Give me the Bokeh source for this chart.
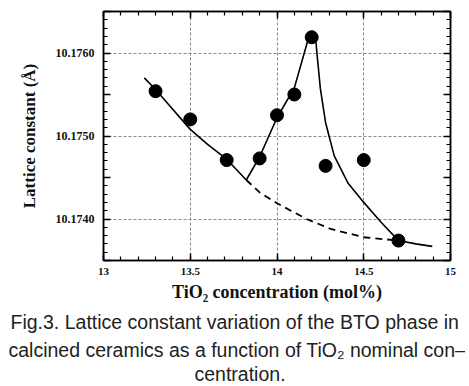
from bokeh.plotting import figure
from bokeh.models import (LinearAxis, SingleIntervalTicker, CustomJSTickFormatter,
                          Range1d, Title)
from bokeh.embed import file_html
from bokeh.resources import INLINE

# measured points
pt_x = [13.30, 13.50, 13.71, 13.90, 14.00, 14.10, 14.20, 14.28, 14.50, 14.70]
pt_y = [10.17554, 10.17520, 10.17471, 10.17473, 10.17525, 10.17550, 10.17619, 10.17464, 10.17471, 10.17374]

# solid guide curve
solid_x = [13.235, 13.30, 13.40, 13.50, 13.60, 13.71, 13.823, 13.90, 14.00, 14.10, 14.183, 14.222,
           14.231, 14.25, 14.28, 14.33, 14.41, 14.50, 14.60, 14.70, 14.80, 14.895]
solid_y = [10.17570, 10.17556, 10.17532, 10.17508, 10.17490, 10.17472, 10.17447, 10.17475, 10.17522,
           10.17558, 10.17619, 10.17619, 10.17598, 10.17557, 10.17516, 10.17476, 10.17443, 10.17420,
           10.17396, 10.17374, 10.17370, 10.17367]

# dashed guide curve
dash_x = [13.823, 13.90, 14.00, 14.17, 14.31, 14.50, 14.70]
dash_y = [10.17447, 10.17432, 10.17419, 10.17400, 10.17388, 10.17378, 10.17374]

x_title = "TiO\u2082 concentration (mol%)"
y_title = "Lattice constant (\u00c5)"
caption = ["Fig.3. Lattice constant variation of the BTO phase in",
           "calcined ceramics as a function of TiO\u2082 nominal con\u2013",
           "centration."]

SERIF = "Liberation Serif"
CAP_FONT = "Liberation Sans"

p = figure(width=465, height=384, output_backend="svg", toolbar_location=None,
           x_range=Range1d(13, 15), y_range=Range1d(10.1735, 10.1765),
           min_border_left=103, min_border_right=15, min_border_top=11, min_border_bottom=10,
           background_fill_color="white", border_fill_color="white")
p.outline_line_color = "black"
p.outline_line_width = 1.5

xt = SingleIntervalTicker(interval=0.5, num_minor_ticks=5)
yt = SingleIntervalTicker(interval=0.0005, num_minor_ticks=5)
xfmt = CustomJSTickFormatter(code="return String(Math.round(tick*10)/10)")
yfmt = CustomJSTickFormatter(code="const k = Math.round(tick*10000); return (k % 10 == 0) ? tick.toFixed(4) : ''")
blank = CustomJSTickFormatter(code="return ''")

for ax, tk, fm in ((p.xaxis[0], xt, xfmt), (p.yaxis[0], yt, yfmt)):
    ax.ticker = tk
    ax.formatter = fm
    ax.axis_line_color = "black"
    ax.axis_line_width = 1.5
    ax.major_tick_in = 7
    ax.major_tick_out = 0
    ax.minor_tick_in = 4
    ax.minor_tick_out = 0
    ax.major_tick_line_width = 1.5
    ax.minor_tick_line_width = 1.2
    ax.major_label_text_font = SERIF
    ax.major_label_text_font_style = "bold"
    ax.major_label_text_color = "#111111"
    ax.axis_label_text_font = SERIF
    ax.axis_label_text_font_style = "bold"
    ax.axis_label_text_color = "#111111"

p.xaxis[0].major_label_text_font_size = "11px"
p.xaxis[0].major_label_standoff = 7
p.xaxis[0].axis_label = x_title
p.xaxis[0].axis_label_text_font_size = "18px"
p.xaxis[0].axis_label_standoff = 4
p.yaxis[0].major_label_text_font_size = "12px"
p.yaxis[0].major_label_standoff = 9
p.yaxis[0].axis_label = y_title
p.yaxis[0].axis_label_text_font_size = "17px"
p.yaxis[0].axis_label_standoff = 14

for side, tk in (("above", xt), ("right", yt)):
    ax = LinearAxis(ticker=tk, formatter=blank)
    ax.axis_line_color = "black"
    ax.axis_line_width = 1.5
    ax.major_tick_in = 7
    ax.major_tick_out = 0
    ax.minor_tick_in = 4
    ax.minor_tick_out = 0
    ax.major_tick_line_width = 1.5
    ax.minor_tick_line_width = 1.2
    ax.major_label_text_font_size = "0px"
    ax.major_label_standoff = 0
    p.add_layout(ax, side)

p.xgrid.ticker = SingleIntervalTicker(interval=0.5)
p.ygrid.ticker = SingleIntervalTicker(interval=0.001)
for g in (p.xgrid[0], p.ygrid[0]):
    g.grid_line_color = "#8a8a8a"
    g.grid_line_dash = "3 2"
    g.grid_line_width = 1

p.line(solid_x, solid_y, line_color="black", line_width=1.6)
p.line(dash_x, dash_y, line_color="black", line_width=1.8, line_dash="7 5")
p.scatter(pt_x, pt_y, size=13, fill_color="black", line_color="black")

offsets = [-93, -95, 91]
standoffs = [8, 0, 0]
for txt, off, so in zip(caption, offsets, standoffs):
    t = Title(text=txt, align="left", offset=off, text_font=CAP_FONT, text_font_size="19.5px",
              text_font_style="normal", text_color="#222222", standoff=so)
    p.add_layout(t, "below")

open("out.html", "w").write(file_html(p, INLINE))
